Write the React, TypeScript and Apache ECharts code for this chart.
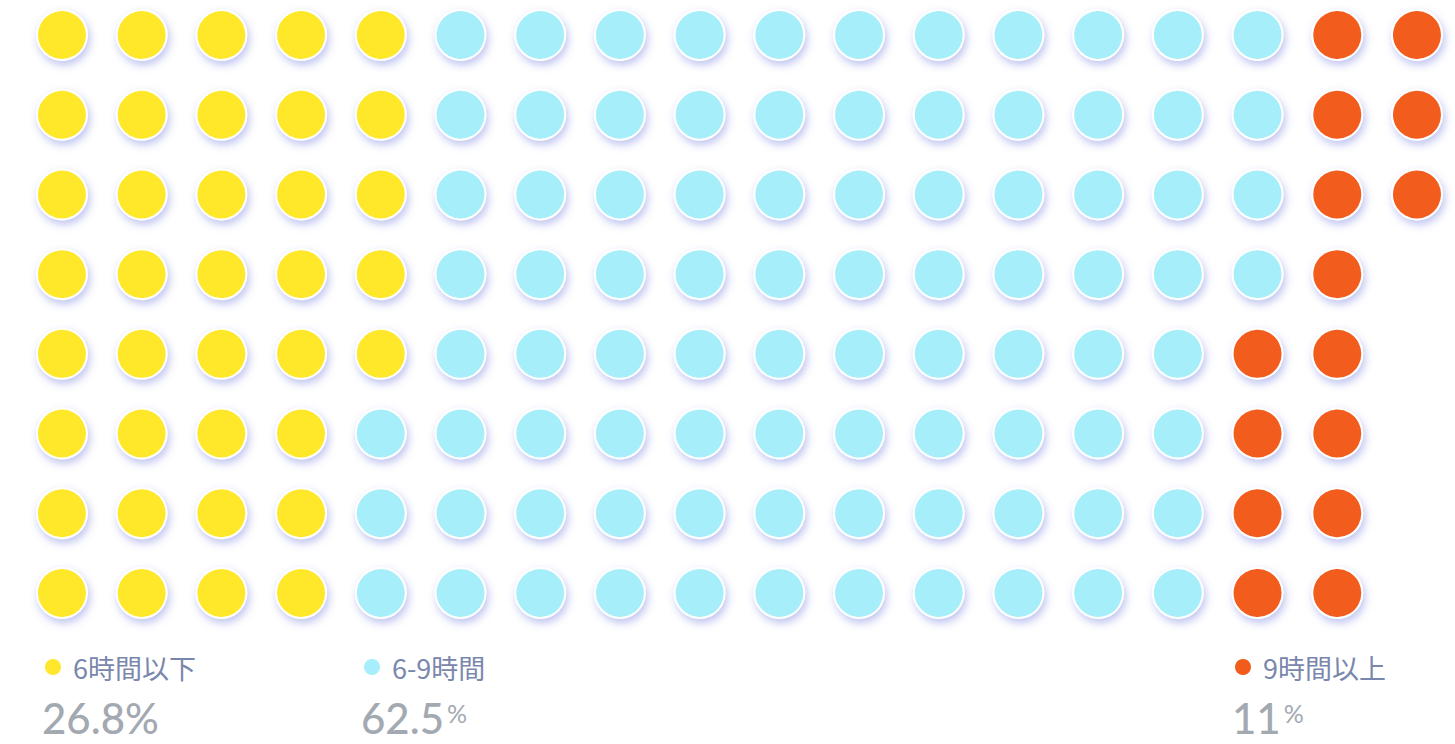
import React, { useEffect, useRef } from "react";
import * as echarts from "echarts";

const categories = ["6時間以下", "6-9時間", "9時間以上"];
const dotCounts = [37, 87, 15];
const percentValues = ["26.8", "62.5", "11"];
const percentSmall = [false, true, true];
const colors = ["#FFE72B", "#A6EFFA", "#F25C1B"];
const ROWS = 8;
const COLS = 18;

const BIG_FONT = '500 42px Lato, "Noto Sans", sans-serif';
const SMALL_FONT = '400 25px Lato, "Noto Sans", sans-serif';

export default function App() {
  const ref = useRef<HTMLDivElement>(null);
  useEffect(() => {
    const chart = echarts.init(ref.current!, null, { renderer: "svg" });
    // column-major fill, top to bottom
    const seriesData: number[][][] = categories.map(() => []);
    let idx = 0;
    dotCounts.forEach((n, ci) => {
      for (let k = 0; k < n; k++) {
        const col = Math.floor(idx / ROWS);
        const row = idx % ROWS;
        seriesData[ci].push([col, row]);
        idx++;
      }
    });
    const legendX = [53, 372, 1243];
    const graphic: any[] = [];
    categories.forEach((c, i) => {
      graphic.push({
        type: "circle",
        shape: { cx: legendX[i], cy: 667, r: 8 },
        style: { fill: colors[i] },
      });
      graphic.push({
        type: "text",
        x: legendX[i] + 20,
        y: 667,
        style: {
          text: c,
          font: '400 27px "Noto Sans CJK JP", "Noto Sans", sans-serif',
          fill: "#7A87AC",
          textVerticalAlign: "middle",
        },
      });
      const bigText = percentSmall[i] ? percentValues[i] : percentValues[i] + "%";
      const w = new echarts.graphic.Text({ style: { text: bigText, font: BIG_FONT } }).getBoundingRect().width;
      graphic.push({
        type: "text",
        x: legendX[i] - 11,
        y: 718,
        style: {
          text: bigText,
          font: BIG_FONT,
          lineHeight: 32,
          fill: "#A3A9B1",
          textVerticalAlign: "middle",
        },
      });
      if (percentSmall[i]) {
        graphic.push({
          type: "text",
          x: legendX[i] - 11 + w + 3,
          y: 713,
          style: {
            text: "%",
            font: SMALL_FONT,
            lineHeight: 20,
            fill: "#A3A9B1",
            textVerticalAlign: "middle",
          },
        });
      }
    });
    chart.setOption({
      animation: false,
      grid: { left: 62, right: 38, top: 35, bottom: 151 },
      xAxis: { type: "value", min: 0, max: COLS - 1, show: false },
      yAxis: { type: "value", min: 0, max: ROWS - 1, inverse: true, show: false },
      series: categories.map((c, i) => ({
        name: c,
        type: "scatter",
        data: seriesData[i],
        symbol: "circle",
        symbolSize: 50,
        itemStyle: {
          color: colors[i],
          opacity: 1,
          borderColor: "#FFFFFF",
          borderWidth: 2,
          shadowColor: "rgba(110,120,220,0.45)",
          shadowBlur: 9,
          shadowOffsetX: 2,
          shadowOffsetY: 4,
        },
      })),
      graphic,
    });
    return () => chart.dispose();
  }, []);
  return (
    <div
      ref={ref}
      style={{ position: "fixed", left: 0, top: 0, width: 1455, height: 744, background: "#fff" }}
    />
  );
}
